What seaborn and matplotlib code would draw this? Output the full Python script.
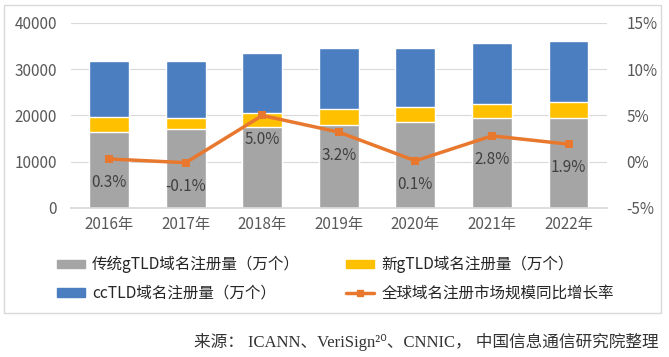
import numpy as np
import pandas as pd
import matplotlib
matplotlib.use("Agg")
import matplotlib.pyplot as plt
from matplotlib.patches import Patch, Rectangle
from matplotlib.lines import Line2D
from matplotlib.ticker import FuncFormatter
import seaborn as sns

# Data
years = ["2016年", "2017年", "2018年", "2019年", "2020年", "2021年", "2022年"]
legacy_gtld = [16400, 17100, 17500, 17950, 18600, 19400, 19500]   # 传统gTLD
new_gtld = [3300, 2400, 3000, 3450, 3200, 3100, 3400]             # 新gTLD
cctld = [12100, 12300, 13000, 13200, 12800, 13200, 13300]         # ccTLD
growth = [0.3, -0.1, 5.0, 3.2, 0.1, 2.8, 1.9]                     # 同比增长率 (%)
growth_labels = ["0.3%", "-0.1%", "5.0%", "3.2%", "0.1%", "2.8%", "1.9%"]

labels = ["传统gTLD域名注册量（万个）", "新gTLD域名注册量（万个）",
          "ccTLD域名注册量（万个）", "全球域名注册市场规模同比增长率"]
source = "来源： ICANN、VeriSign²⁰、CNNIC， 中国信息通信研究院整理"

c_gray, c_yellow, c_blue, c_orange = "#A5A5A5", "#FFC000", "#4A7EC0", "#E8782E"
txt = "#595959"

sns.set_theme(style="white")
plt.rcParams["font.family"] = ["Noto Sans CJK SC", "DejaVu Sans"]

df = pd.DataFrame({"year": years, "legacy": legacy_gtld, "new": new_gtld, "cc": cctld})
df["lvl2"] = df["legacy"] + df["new"]
df["lvl3"] = df["lvl2"] + df["cc"]

fig = plt.figure(figsize=(6.69, 3.57), dpi=100)
ax = fig.add_axes([0.106, 0.4174, 0.801, 0.5182])

# stacked bars: draw totals first, then cover with lower segments
sns.barplot(data=df, x="year", y="lvl3", color=c_blue, width=0.52, saturation=1, ax=ax)
sns.barplot(data=df, x="year", y="lvl2", color=c_yellow, width=0.52, saturation=1, ax=ax)
sns.barplot(data=df, x="year", y="legacy", color=c_gray, width=0.52, saturation=1, ax=ax)

ax.set_ylim(0, 40000)
ax.set_xlim(-0.5, 6.5)
ax.set_yticks([0, 10000, 20000, 30000, 40000])
ax.yaxis.grid(True, color="#D9D9D9", linewidth=0.8)
ax.set_axisbelow(True)
ax.set_xlabel("")
ax.set_ylabel("")
for s in ax.spines.values():
    s.set_visible(False)
ax.spines["bottom"].set_visible(True)
ax.spines["bottom"].set_color("#D9D9D9")
ax.tick_params(axis="both", length=0, labelsize=11, labelcolor=txt)
ax.tick_params(axis="x", pad=6)
ax.tick_params(axis="y", pad=10)

# growth rate line on the secondary axis
ax2 = ax.twinx()
gdf = pd.DataFrame({"pos": np.arange(len(years)), "growth": growth})
sns.lineplot(data=gdf, x="pos", y="growth", color=c_orange, linewidth=2.5,
             marker="s", markersize=6, markeredgewidth=0, ax=ax2)
ax2.set_ylim(-5, 15)
ax2.set_yticks([-5, 0, 5, 10, 15])
ax2.yaxis.set_major_formatter(FuncFormatter(lambda v, p: f"{v:.0f}%"))
ax2.set_xlabel("")
ax2.set_ylabel("")
for s in ax2.spines.values():
    s.set_visible(False)
ax2.tick_params(axis="y", length=0, labelsize=11, labelcolor=txt, pad=14)
ax2.grid(False)

for x, v, lab in zip(gdf["pos"], growth, growth_labels):
    ax2.annotate(lab, (x, v), xytext=(0, -11), textcoords="offset points",
                 ha="center", va="top", fontsize=11, color="#404040")

# legend
handles = [Patch(color=c_gray), Patch(color=c_blue),
           Patch(color=c_yellow),
           Line2D([0], [0], color=c_orange, linewidth=2.5, marker="s", markersize=5)]
hl = [labels[0], labels[2], labels[1], labels[3]]
fig.legend(handles, hl, loc="upper left", bbox_to_anchor=(0.085, 0.283), ncol=2,
           frameon=False, fontsize=11.2, handlelength=1.8, handleheight=0.45,
           handletextpad=0.45, columnspacing=3.0, labelspacing=0.75,
           labelcolor="#262626", borderaxespad=0, borderpad=0)

# chart frame
fig.patches.append(Rectangle((0.006, 0.123), 0.982, 0.863, transform=fig.transFigure,
                             fill=False, edgecolor="#D9D9D9", linewidth=1))

fig.text(0.984, 0.042, source, ha="right", va="center", fontsize=12, color="#333333",
         family=["Liberation Serif", "Noto Sans CJK SC", "DejaVu Sans"])

fig.savefig("out.png", dpi=100, facecolor="white")
